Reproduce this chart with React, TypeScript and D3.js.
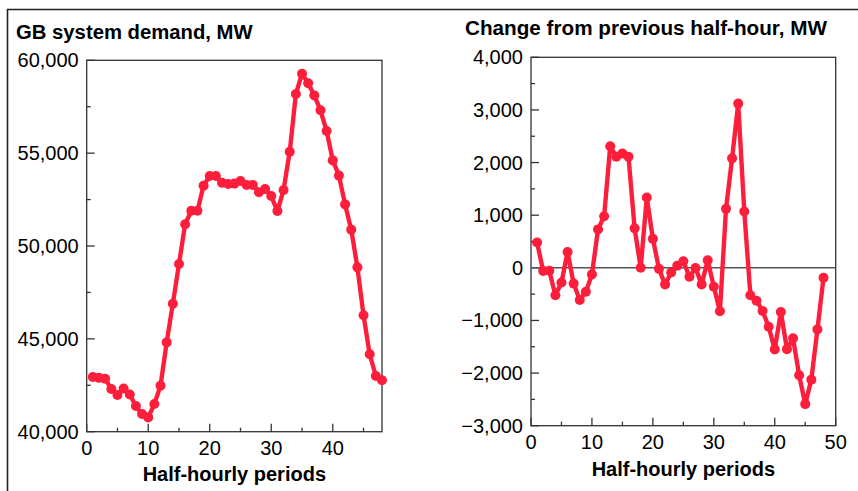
import { useEffect, useRef } from 'react';
import * as d3 from 'd3';

const periods = [
  1, 2, 3, 4, 5, 6, 7, 8, 9, 10, 11, 12, 13, 14, 15, 16, 17, 18, 19, 20, 21, 22, 23, 24,
  25, 26, 27, 28, 29, 30, 31, 32, 33, 34, 35, 36, 37, 38, 39, 40, 41, 42, 43, 44, 45, 46, 47, 48,
];

const demand = [
  42950, 42900, 42850, 42300, 41980, 42330, 42000, 41380, 40950, 40770, 41490, 42480,
  44810, 46890, 49030, 51170, 51900, 51900, 53250, 53770, 53770, 53410, 53340, 53360,
  53500, 53290, 53290, 52890, 53070, 52690, 51880, 53020, 55080, 58190, 59280, 58760,
  58110, 57310, 56190, 54610, 53790, 52240, 50880, 48850, 46270, 44170, 43000, 42770,
];

const change = [
  480, -60, -55, -520, -280, 300, -300, -610, -455, -125, 730, 980,
  2310, 2110, 2170, 2110, 750, 0, 1335, 550, -20, -315, -90, 40,
  125, -170, -5, -315, 145, -360, -825, 1120, 2080, 3120, 1070, -520,
  -625, -820, -1120, -1550, -840, -1545, -1340, -2040, -2590, -2125, -1170, -190,
];

const demandTicks = [40000, 45000, 50000, 55000, 60000];
const demandMinor = [42500, 47500, 52500, 57500];
const changeTicks = [-3000, -2000, -1000, 0, 1000, 2000, 3000, 4000];
const changeMinor = [-2500, -1500, -500, 500, 1500, 2500, 3500];

const RED = '#fd1e3c';
const AXIS = '#333';
const FONT = '"Liberation Sans", Arial, sans-serif';

interface PanelOpts {
  x0: number; x1: number; y0: number; y1: number;
  xMax: number; xTicks: number[]; xMinor: number[];
  yDomain: [number, number]; yTicks: number[]; yMinor: number[];
  values: number[];
  title: string; titleX: number; titleY: number; titleAnchor: string; titleSize: number;
  xLabelY: number;
  zeroLine?: boolean;
}

function drawPanel(svg: d3.Selection<SVGSVGElement, unknown, null, undefined>, o: PanelOpts) {
  const x = d3.scaleLinear().domain([0, o.xMax]).range([o.x0, o.x1]);
  const y = d3.scaleLinear().domain(o.yDomain).range([o.y1, o.y0]);
  const g = svg.append('g');

  // title
  g.append('text')
    .attr('x', o.titleX).attr('y', o.titleY)
    .attr('text-anchor', o.titleAnchor)
    .style('font', `bold ${o.titleSize}px ${FONT}`)
    .text(o.title);

  // frame
  g.append('rect')
    .attr('x', o.x0).attr('y', o.y0)
    .attr('width', o.x1 - o.x0).attr('height', o.y1 - o.y0)
    .attr('fill', 'none').attr('stroke', AXIS).attr('stroke-width', 1.3);

  // y ticks (inward)
  g.selectAll('line.ymaj').data(o.yTicks).enter().append('line')
    .attr('x1', o.x0).attr('x2', o.x0 + 8)
    .attr('y1', d => y(d)).attr('y2', d => y(d))
    .attr('stroke', AXIS).attr('stroke-width', 1.3);
  g.selectAll('line.ymin').data(o.yMinor).enter().append('line')
    .attr('x1', o.x0).attr('x2', o.x0 + 4)
    .attr('y1', d => y(d)).attr('y2', d => y(d))
    .attr('stroke', AXIS).attr('stroke-width', 1.3);
  g.selectAll('text.ylab').data(o.yTicks).enter().append('text')
    .attr('x', o.x0 - 8).attr('y', d => y(d))
    .attr('dy', '0.35em')
    .attr('text-anchor', 'end')
    .style('font', `20px ${FONT}`)
    .text(d => d3.format(',')(d));

  // x ticks (inward)
  g.selectAll('line.xmaj').data(o.xTicks).enter().append('line')
    .attr('x1', d => x(d)).attr('x2', d => x(d))
    .attr('y1', o.y1).attr('y2', o.y1 - 8)
    .attr('stroke', AXIS).attr('stroke-width', 1.3);
  g.selectAll('line.xmin').data(o.xMinor).enter().append('line')
    .attr('x1', d => x(d)).attr('x2', d => x(d))
    .attr('y1', o.y1).attr('y2', o.y1 - 4)
    .attr('stroke', AXIS).attr('stroke-width', 1.3);
  g.selectAll('text.xlab').data(o.xTicks).enter().append('text')
    .attr('x', d => x(d)).attr('y', o.y1 + 23)
    .attr('text-anchor', 'middle')
    .style('font', `20px ${FONT}`)
    .text(d => String(d));

  g.append('text')
    .attr('x', (o.x0 + o.x1) / 2).attr('y', o.xLabelY)
    .attr('text-anchor', 'middle')
    .style('font', `bold 20px ${FONT}`)
    .text('Half-hourly periods');

  if (o.zeroLine) {
    g.append('line')
      .attr('x1', o.x0).attr('x2', o.x1)
      .attr('y1', y(0)).attr('y2', y(0))
      .attr('stroke', '#555').attr('stroke-width', 1.5);
  }

  // series
  const line = d3.line<number>()
    .x((_, i) => x(periods[i]))
    .y(d => y(d));
  g.append('path')
    .datum(o.values)
    .attr('d', line)
    .attr('fill', 'none')
    .attr('stroke', RED)
    .attr('stroke-width', 4.4)
    .attr('stroke-linejoin', 'round');
  g.selectAll('circle.pt').data(o.values).enter().append('circle')
    .attr('cx', (_, i) => x(periods[i]))
    .attr('cy', d => y(d))
    .attr('r', 5)
    .attr('fill', RED);
}

export default function App() {
  const svgRef = useRef<SVGSVGElement>(null);

  useEffect(() => {
    if (!svgRef.current) return;
    const svg = d3.select(svgRef.current);
    svg.selectAll('*').remove();

    svg.append('rect').attr('width', 858).attr('height', 491).attr('fill', '#fff');

    // outer frame (top + left)
    svg.append('path')
      .attr('d', 'M7.5,491 V9.5 H858')
      .attr('fill', 'none').attr('stroke', '#222').attr('stroke-width', 1.6);

    drawPanel(svg, {
      x0: 86.7, x1: 382, y0: 60.3, y1: 431.7,
      xMax: 48, xTicks: [0, 10, 20, 30, 40], xMinor: [5, 15, 25, 35, 45],
      yDomain: [40000, 60000], yTicks: demandTicks, yMinor: demandMinor,
      values: demand,
      title: 'GB system demand, MW', titleX: 16, titleY: 39, titleAnchor: 'start', titleSize: 20.3,
      xLabelY: 481,
    });

    drawPanel(svg, {
      x0: 531, x1: 835.7, y0: 57.3, y1: 425.7,
      xMax: 50, xTicks: [0, 10, 20, 30, 40, 50], xMinor: [5, 15, 25, 35, 45],
      yDomain: [-3000, 4000], yTicks: changeTicks, yMinor: changeMinor,
      values: change,
      title: 'Change from previous half-hour, MW', titleX: 646, titleY: 35, titleAnchor: 'middle', titleSize: 20.7,
      xLabelY: 476,
      zeroLine: true,
    });
  }, []);

  return (
    <div style={{ position: 'absolute', left: 0, top: 0, width: 858, height: 491 }}>
      <svg ref={svgRef} width={858} height={491} style={{ display: 'block' }} />
    </div>
  );
}
